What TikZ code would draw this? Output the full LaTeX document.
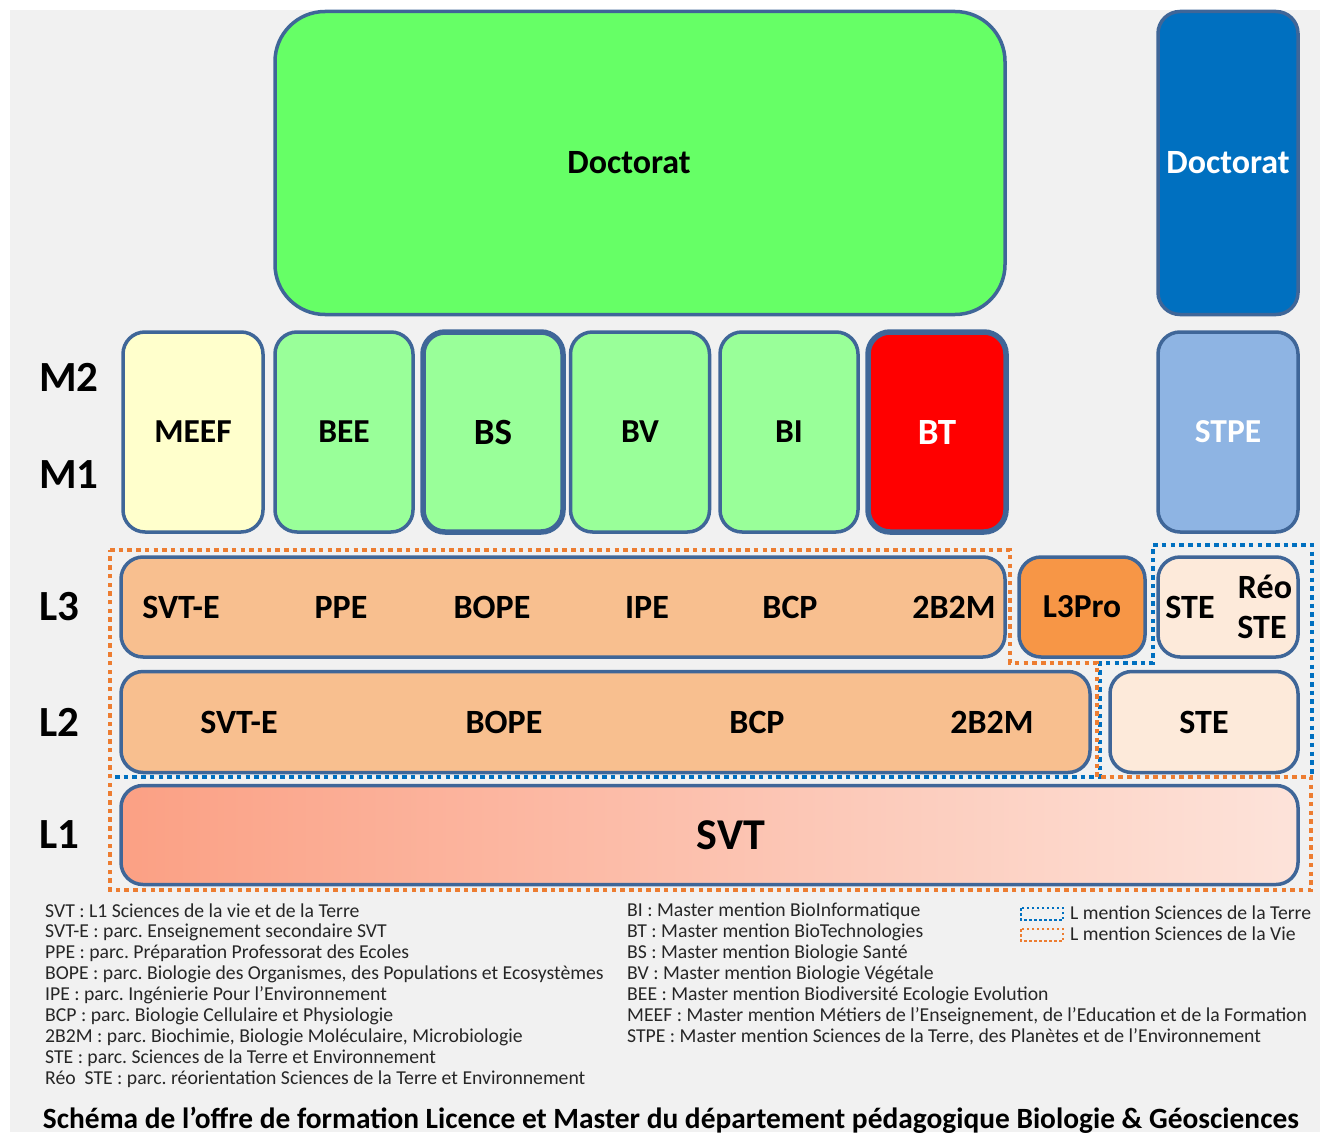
\documentclass[tikz,border=0pt]{standalone}
\usepackage{fontspec}
\setmainfont{Carlito}
\frenchspacing
\definecolor{bg}{HTML}{F1F1F1}
\definecolor{edge}{HTML}{3F6698}
\definecolor{docgreen}{HTML}{66FF66}
\definecolor{docblue}{HTML}{0070C0}
\definecolor{mgreen}{HTML}{99FF99}
\definecolor{meef}{HTML}{FFFFCC}
\definecolor{stpe}{HTML}{8EB4E3}
\definecolor{lthree}{HTML}{F8BF8F}
\definecolor{lpro}{HTML}{F79646}
\definecolor{ste}{HTML}{FDEADA}
\definecolor{svtl}{HTML}{FBA084}
\definecolor{svtr}{HTML}{FDE3DA}
\definecolor{dotorange}{HTML}{ED7D31}
\definecolor{dotblue}{HTML}{0070C0}
\tikzset{
  x=1pt,y=-1pt,
  box/.style={draw=edge, line width=3.5pt, rounded corners=22pt, inner sep=0pt, font=\fontsize{33.5}{36}\selectfont\bfseries},
  lvl/.style={font=\fontsize{43}{45}\selectfont\bfseries, inner sep=0pt},
  lab/.style={font=\fontsize{34}{36}\selectfont\bfseries, inner sep=0pt},
  leg/.style={font=\fontsize{19.7}{21}\selectfont, inner sep=0pt, anchor=west, text=black!85},
  odots/.style={draw=dotorange, line width=4.5pt, dash pattern=on 4.5pt off 4.2pt, line join=miter},
  bdots/.style={draw=dotblue, line width=4.5pt, dash pattern=on 4.5pt off 4.2pt, line join=miter},
  sodots/.style={draw=dotorange, line width=2.5pt, dash pattern=on 2.5pt off 2.5pt},
  sbdots/.style={draw=dotblue, line width=2.5pt, dash pattern=on 2.5pt off 2.5pt}
}
\begin{document}
\begin{tikzpicture}
\useasboundingbox (0,0) rectangle (1322,1137);
\fill[bg] (10,10) rectangle (1320,1132);
% Doctorat
\node[box, fill=docgreen, rounded corners=50pt, minimum width=730pt, minimum height=303pt] (docg) at (640,163) {};
\node[lab] (docglab) at (629,163) {Doctorat};
\node[box, fill=docblue, text=white, minimum width=140pt, minimum height=303pt, font=\fontsize{34}{36}\selectfont\bfseries] (docb) at (1228,163) {Doctorat};
% Masters
\node[box, fill=meef, minimum width=140pt, minimum height=200pt] (meef) at (193,432) {MEEF};
\node[box, fill=mgreen, minimum width=138pt, minimum height=200pt] (bee) at (344,432) {BEE};
\node[box, fill=mgreen, line width=5.5pt, minimum width=140pt, minimum height=200pt, font=\fontsize{37}{39}\selectfont\bfseries] (bs) at (493,432) {BS};
\node[box, fill=mgreen, minimum width=139pt, minimum height=200pt] (bv) at (640,432) {BV};
\node[box, fill=mgreen, minimum width=138pt, minimum height=200pt] (bi) at (789,432) {BI};
\node[box, fill=red, text=white, line width=5.5pt, minimum width=138pt, minimum height=200pt, font=\fontsize{37}{39}\selectfont\bfseries] (bt) at (937,432) {BT};
\node[box, fill=stpe, text=white, minimum width=140pt, minimum height=200pt] (stpe) at (1228,432) {STPE};
% Level labels
\node[lvl] (m2) at (69,377) {M2};
\node[lvl] (m1) at (69,475) {M1};
\node[lvl] (l3) at (59,607) {L3};
\node[lvl] (l2) at (59,722) {L2};
\node[lvl] (l1) at (59,835) {L1};
% dotted mentions
\draw[bdots] (115,777) -- (1100,777) -- (1100,663) -- (1153,663) -- (1153,545) -- (1312,545) -- (1312,777);
\draw[odots] (110,550) -- (1010,550) -- (1010,663) -- (1097,663) -- (1097,777) -- (1311,777) -- (1311,890) -- (110,890) -- cycle;
% L3
\node[box, fill=lthree, minimum width=884pt, minimum height=100pt] (l3main) at (563,607) {};
\node[lab] (l3a) at (181,607) {SVT-E};
\node[lab] (l3b) at (341,607) {PPE};
\node[lab] (l3c) at (492,607) {BOPE};
\node[lab] (l3d) at (647,607) {IPE};
\node[lab] (l3e) at (790,607) {BCP};
\node[lab] (l3f) at (954,607) {2B2M};
\node[box, fill=lpro, minimum width=126pt, minimum height=100pt] (l3pro) at (1082,607) {L3Pro};
\node[box, fill=ste, minimum width=140pt, minimum height=100pt] (l3ste) at (1228,607) {};
\node[lab] (ste3) at (1190,607) {STE};
\node[lab] (reo) at (1265,587) {Réo};
\node[lab] (reoste) at (1262,627) {STE};
% L2
\node[box, fill=lthree, minimum width=969pt, minimum height=101pt] (l2main) at (605.5,722) {};
\node[lab] (l2a) at (239,722) {SVT-E};
\node[lab] (l2b) at (504,722) {BOPE};
\node[lab] (l2c) at (757,722) {BCP};
\node[lab] (l2d) at (992,722) {2B2M};
\node[box, fill=ste, minimum width=188pt, minimum height=101pt, font=\fontsize{34}{36}\selectfont\bfseries] (l2ste) at (1204,722) {STE};
% L1
\node[box, left color=svtl, right color=svtr, minimum width=1177pt, minimum height=99pt] (svt) at (709.5,835) {};
\node[font=\fontsize{44}{46}\selectfont\bfseries, inner sep=0pt] (svtlab) at (731,835) {SVT};
% Legend
\node[leg] (g1) at (45,911) {SVT : L1 Sciences de la vie et de la Terre};
\node[leg] (g2) at (45,932) {SVT-E : parc. Enseignement secondaire SVT};
\node[leg] (g3) at (45,953) {PPE : parc. Préparation Professorat des Ecoles};
\node[leg] (g4) at (45,974) {BOPE : parc. Biologie des Organismes, des Populations et Ecosystèmes};
\node[leg] (g5) at (45,995) {IPE : parc. Ingénierie Pour l’Environnement};
\node[leg] (g6) at (45,1016) {BCP : parc. Biologie Cellulaire et Physiologie};
\node[leg] (g7) at (45,1037) {2B2M : parc. Biochimie, Biologie Moléculaire, Microbiologie};
\node[leg] (g8) at (45,1058) {STE : parc. Sciences de la Terre et Environnement};
\node[leg] (g9) at (45,1079) {Réo\ \ STE : parc. réorientation Sciences de la Terre et Environnement};
\node[leg] (h1) at (627,911) {BI : Master mention BioInformatique};
\node[leg] (h2) at (627,932) {BT : Master mention BioTechnologies};
\node[leg] (h3) at (627,953) {BS : Master mention Biologie Santé};
\node[leg] (h4) at (627,974) {BV : Master mention Biologie Végétale};
\node[leg] (h5) at (627,995) {BEE : Master mention Biodiversité Ecologie Evolution};
\node[leg] (h6) at (627,1016) {MEEF : Master mention Métiers de l'Enseignement, de l'Education et de la Formation};
\node[leg] (h7) at (627,1037) {STPE : Master mention Sciences de la Terre, des Planètes et de l’Environnement};
\draw[sbdots] (1021,908) rectangle (1063,920);
\draw[sodots] (1021,929) rectangle (1063,941);
\node[leg] (k1) at (1070,913) {L mention Sciences de la Terre};
\node[leg] (k2) at (1070,934) {L mention Sciences de la Vie};
% Title
\node[font=\fontsize{29.4}{31}\selectfont\bfseries, inner sep=0pt] (title) at (671,1120) {Schéma de l’offre de formation Licence et Master du département pédagogique Biologie \& Géosciences};
\end{tikzpicture}
\end{document}
